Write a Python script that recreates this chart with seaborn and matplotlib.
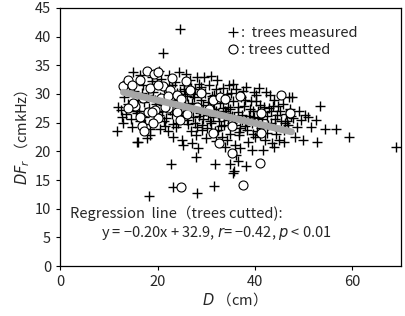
import numpy as np
import pandas as pd
import seaborn as sns
import matplotlib.pyplot as plt
from matplotlib.lines import Line2D

# trees measured (+)
meas_x = [11.6, 11.9, 13.0, 12.5, 13.5, 14.0, 13.2, 14.5, 15.0, 14.2, 15.5, 15.7, 14.8, 12.8, 15.2, 13.8,
          16.0, 16.5, 17.0, 17.2, 17.5, 18.0, 18.3, 18.8, 19.0, 19.3, 19.6, 16.8, 17.8, 18.5, 16.3, 19.8,
          16.0, 18.4, 17.3, 19.2, 15.8, 18.9,
          20.2, 20.5, 21.0, 21.3, 21.8, 22.0, 22.4, 22.7, 23.0, 23.3, 23.6, 24.0, 24.3, 24.7, 20.8, 21.5,
          22.2, 23.8, 24.5, 20.3, 21.7, 23.2, 25.0, 25.2, 24.9, 22.9, 20.6, 21.2, 23.9, 24.1,
          25.5, 25.8, 26.0, 26.3, 26.6, 27.0, 27.3, 27.6, 28.0, 28.3, 28.6, 29.0, 29.3, 29.6, 30.0, 25.3,
          26.8, 27.8, 28.8, 29.8, 25.9, 27.0, 28.3, 27.9, 30.0, 26.2, 27.4, 28.1, 29.2, 30.3, 25.7, 26.9,
          30.5, 30.8, 31.2, 31.5, 31.8, 32.1, 32.4, 32.8, 33.1, 33.5, 33.8, 34.1, 34.4, 34.8, 35.0, 30.2,
          31.0, 31.9, 32.6, 33.3, 34.5, 35.2, 30.7, 32.2, 33.9, 34.6, 31.4, 32.9, 33.6, 34.2,
          35.5, 35.8, 36.2, 36.5, 36.8, 37.1, 37.4, 37.8, 38.1, 38.4, 38.8, 39.1, 39.4, 39.8, 40.0, 35.9,
          36.2, 37.0, 38.6, 39.6, 35.4, 36.9, 37.6, 38.9, 39.3,
          40.3, 40.6, 41.0, 41.3, 41.6, 41.9, 42.2, 42.5, 42.9, 43.2, 43.5, 43.9, 44.2, 44.6, 45.0, 40.8,
          42.0, 43.0, 44.0, 44.8, 40.5, 41.8,
          45.3, 45.7, 46.0, 46.4, 46.8, 47.0, 47.5, 47.8, 48.2, 48.6, 49.0, 49.5, 49.9, 50.2, 45.9, 47.2,
          50.8, 51.6, 52.6, 52.7, 53.3, 54.3, 56.7, 59.4, 69.0,
          24.6, 21.1, 18.2, 23.2, 28.0, 31.6, 22.7, 31.8, 34.8, 35.5, 35.7, 38.1, 36.5, 16.2,
          # extra fill of the dense core
          19.5, 20.9, 22.6, 24.4, 25.6, 26.4, 27.2, 28.5, 29.4, 30.4, 31.3, 32.0, 32.7, 33.4, 34.0, 34.9,
          35.7, 36.6, 37.3, 38.2, 39.0, 39.9, 40.7, 41.5, 42.4, 43.3, 44.1, 45.1, 46.2, 47.4,
          21.4, 23.1, 24.8, 26.1, 27.7, 29.1, 30.9, 32.5, 33.7, 35.3, 36.7, 38.0, 39.5, 41.1, 42.7, 44.4,
          20.0, 22.3, 25.4, 28.9, 31.6, 34.3, 37.9, 40.2, 43.7, 46.5]
meas_y = [23.6, 27.8, 24.9, 27.2, 26.5, 28.3, 29.5, 25.6, 33.8, 31.2, 27.0, 21.7, 24.2, 26.0, 30.5, 32.2,
          28.9, 33.3, 31.5, 26.0, 24.8, 29.8, 27.5, 33.0, 30.3, 25.5, 28.2, 30.1, 22.3, 23.9, 25.3, 31.8,
          21.7, 22.9, 28.6, 27.0, 26.7, 32.2,
          34.0, 29.5, 27.0, 31.0, 25.8, 28.8, 33.3, 30.2, 26.5, 29.0, 32.0, 27.8, 25.0, 30.5, 32.6, 24.5,
          23.5, 24.2, 33.8, 26.3, 29.9, 22.5, 22.0, 21.1, 28.5, 31.6, 23.9, 28.0, 30.1, 26.6,
          31.5, 27.5, 29.7, 24.8, 32.5, 28.5, 26.0, 30.8, 24.3, 27.8, 31.8, 29.0, 25.6, 33.0, 27.0, 26.3,
          23.5, 22.8, 26.6, 30.2, 33.5, 21.5, 20.6, 19.0, 22.3, 28.3, 29.4, 32.9, 23.8, 28.6, 30.0, 31.0,
          31.5, 25.2, 29.7, 27.4, 23.5, 30.8, 26.5, 28.5, 24.4, 31.0, 27.0, 29.2, 25.5, 23.0, 30.2, 24.0,
          33.2, 21.8, 25.3, 22.5, 27.8, 26.2, 27.6, 32.4, 20.8, 31.6, 26.0, 29.8, 25.9, 22.0,
          28.8, 24.6, 30.9, 26.8, 22.8, 29.5, 25.4, 27.9, 31.2, 23.8, 26.2, 28.8, 24.9, 30.4, 22.5, 21.1,
          19.4, 20.5, 21.7, 27.0, 31.8, 24.0, 30.6, 25.6, 20.2,
          29.8, 25.8, 28.0, 24.0, 20.2, 26.9, 30.3, 23.2, 27.5, 25.0, 21.5, 28.9, 24.4, 26.3, 22.0, 31.0,
          22.0, 29.8, 20.8, 27.9, 23.5, 27.8,
          25.2, 28.2, 23.8, 26.5, 24.6, 29.4, 29.5, 25.8, 22.5, 24.2, 27.0, 25.5, 22.0, 26.4, 21.7, 27.3,
          26.0, 24.3, 25.5, 21.6, 27.9, 23.9, 23.9, 22.5, 20.8,
          41.4, 37.2, 12.2, 13.8, 12.7, 14.0, 17.8, 17.8, 17.8, 16.3, 16.6, 17.5, 18.3, 27.0,
          29.0, 28.4, 27.2, 29.3, 28.0, 27.1, 30.0, 26.2, 28.0, 26.4, 28.4, 27.0, 26.1, 27.5, 26.6, 27.3,
          26.0, 27.7, 26.4, 25.2, 27.3, 26.0, 27.0, 25.6, 26.1, 27.0, 25.6, 27.1, 25.0, 26.2,
          25.3, 24.7, 26.9, 25.5, 25.0, 24.6, 24.9, 23.8, 24.6, 24.9, 23.3, 24.5, 23.0, 22.8, 24.6, 23.0,
          26.8, 31.5, 30.9, 31.2, 29.8, 30.0, 29.0, 28.7, 27.9, 25.2]

# trees cutted (o)
cut_x = [13.0, 13.9, 14.7, 16.4, 17.8, 19.3, 20.1, 15.4, 16.8, 17.2, 16.4, 18.1, 19.5, 20.1, 22.9, 21.1,
         22.5, 20.8, 22.2, 23.9, 22.2, 23.9, 24.6, 24.9, 26.6, 25.9, 29.0, 31.4, 32.8, 31.4, 32.6, 35.2,
         35.2, 36.9, 41.3, 41.3, 45.3, 47.1, 18.4, 20.1, 15.0, 18.9, 21.5, 19.1, 24.8, 37.6, 41.1, 33.8,
         28.0, 26.0, 30.5, 14.0, 17.0]
cut_y = [31.3, 32.5, 31.6, 32.5, 34.0, 33.5, 33.9, 27.9, 24.4, 23.6, 26.0, 26.9, 27.2, 25.8, 32.8, 31.3,
         30.7, 29.3, 29.6, 29.8, 27.5, 26.9, 25.4, 29.1, 30.7, 32.2, 30.1, 29.0, 29.5, 23.2, 21.5, 24.4,
         19.7, 29.6, 26.6, 23.2, 29.8, 26.6, 31.0, 31.6, 28.4, 26.9, 27.8, 25.0, 13.8, 14.2, 18.0, 29.1,
         27.8, 26.5, 27.3, 27.5, 29.3]

# regression line (trees cutted): y = -0.20x + 32.9
slope, intercept = -0.20, 32.9
line_x = [13.0, 47.5]

sns.set_style('ticks')
plt.rcParams['font.family'] = ['Noto Sans CJK JP', 'DejaVu Sans']
plt.rcParams['mathtext.fontset'] = 'dejavusans'

fig = plt.figure(figsize=(4.06, 3.16), dpi=100)
ax = fig.add_axes([0.148, 0.158, 0.840, 0.817])

sns.scatterplot(x=meas_x, y=meas_y, marker='+', s=60, color='black', linewidth=1.0, ax=ax, zorder=2)
sns.scatterplot(x=cut_x, y=cut_y, marker='o', s=42, facecolor='white', edgecolor='black',
                linewidth=0.8, ax=ax, zorder=3)
reg = pd.DataFrame({'x': line_x})
reg['y'] = slope * reg['x'] + intercept
sns.lineplot(data=reg, x='x', y='y', color='#a6a6a6', linewidth=5, ax=ax, zorder=4)

ax.set_xlim(0, 70)
ax.set_ylim(0, 45)
ax.set_xticks([0, 20, 40, 60])
ax.set_yticks(np.arange(0, 46, 5))
ax.tick_params(labelsize=10.5, length=3, width=0.8, color='black')
for s in ax.spines.values():
    s.set_visible(True)
    s.set_linewidth(0.9)
    s.set_color('black')
ax.set_xlabel('$D$ （cm）', fontsize=10.5, labelpad=1)
ax.set_ylabel('$DF_r$ （cmkHz）', fontsize=10.5, labelpad=2)

handles = [Line2D([], [], marker='+', color='black', linestyle='none', markersize=7, markeredgewidth=0.9),
           Line2D([], [], marker='o', markerfacecolor='white', markeredgecolor='black', linestyle='none',
                  markersize=6.5, markeredgewidth=0.8)]
ax.legend(handles, [':  trees measured', ': trees cutted'], loc='upper right', frameon=False,
          fontsize=10.5, handletextpad=0.0, handlelength=1.0, labelspacing=0.2,
          bbox_to_anchor=(0.91, 0.98))

ax.text(2.0, 8.3, 'Regression  line（trees cutted):', fontsize=10.5)
ax.text(8.3, 5.0, 'y = −0.20x + 32.9, $r$= −0.42, $p$ < 0.01', fontsize=10.5)

fig.savefig('out.png', dpi=100)
